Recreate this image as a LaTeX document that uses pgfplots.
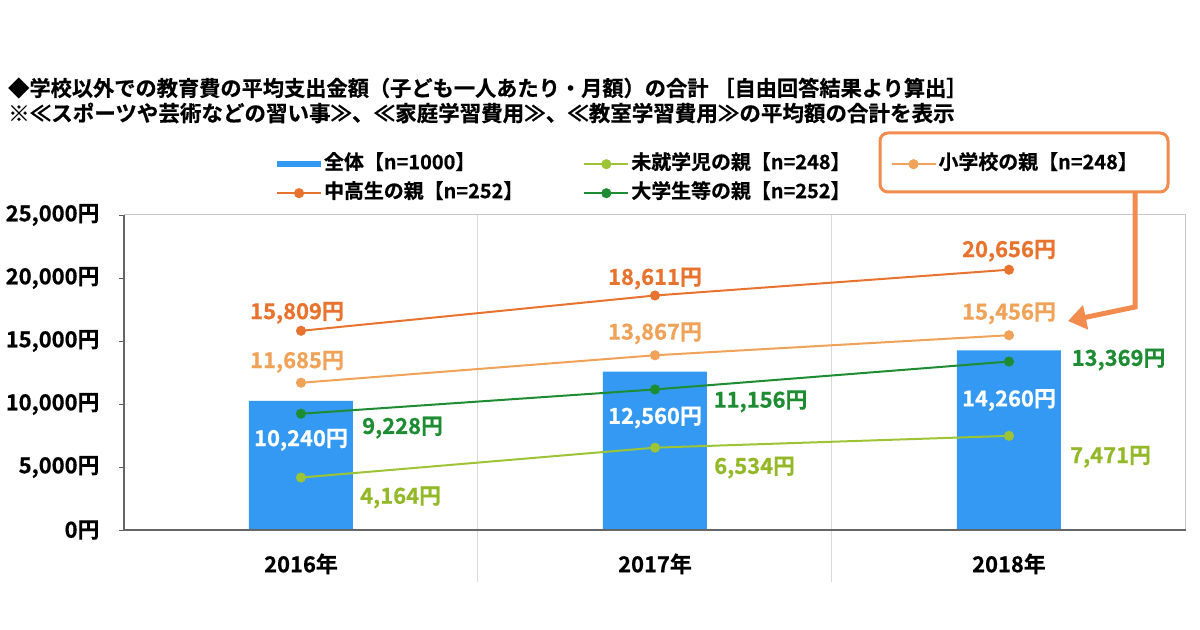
\documentclass[border=0pt]{standalone}
\usepackage{fontspec}
\setmainfont{Noto Sans CJK JP Bold}[FakeBold=0.6]
\usepackage{pgfplots}
\pgfplotsset{compat=1.18}
\usepackage{pgfplotstable}
\usetikzlibrary{arrows.meta}

\definecolor{cAll}{HTML}{3399F2}
\definecolor{cPre}{HTML}{9DC435}
\definecolor{cPreT}{HTML}{93B828}
\definecolor{cEle}{HTML}{F0A258}
\definecolor{cMid}{HTML}{E8732E}
\definecolor{cUni}{HTML}{1E8C32}
\definecolor{cBox}{HTML}{F28C4E}

% x = category (0=2016,1=2017,2=2018), dx/dy = label offset in px
\pgfplotstableread{
x y dx dy
0 10240 0 -39
1 12560 0 -46
2 14260 0 -50
}\tblAll
\pgfplotstableread{
x y dx dy
0 4164 100 -20
1 6534 100 -20
2 7471 102 -21
}\tblPre
\pgfplotstableread{
x y dx dy
0 11685 -4 21
1 13867 0 22
2 15456 0 22
}\tblEle
\pgfplotstableread{
x y dx dy
0 15809 -4 18
1 18611 0 17
2 20656 0 19
}\tblMid
\pgfplotstableread{
x y dx dy
0 9228 102 -14
1 11156 106 -12
2 13369 110 2
}\tblUni

\pgfplotsset{
  lbl/.style={
    visualization depends on={\thisrow{dx}\as\dx},
    visualization depends on={\thisrow{dy}\as\dy},
    point meta=y,
    nodes near coords={\pgfmathprintnumber{\pgfplotspointmeta}円},
    nodes near coords style={anchor=center, xshift=\dx, yshift=\dy,
       font=\fontsize{22}{24}\selectfont, inner sep=0pt, text=#1},
  }
}

\begin{document}
\begin{tikzpicture}
\path[use as bounding box] (0,0) rectangle (1200bp,630bp);
\begin{axis}[
  at={(124bp,100bp)}, anchor=south west,
  scale only axis, width=1062bp, height=315bp,
  xmin=-0.5, xmax=2.5, ymin=0, ymax=25000,
  clip=false,
  axis line style={draw=none},
  xtick={0,1,2}, xticklabels={2016年,2017年,2018年},
  xtick style={draw=none},
  xticklabel style={font=\fontsize{22}{24}\selectfont, yshift=-15bp},
  ytick={0,5000,10000,15000,20000,25000},
  ytick pos=left, tick align=outside, major tick length=5bp,
  ytick style={draw=black!65, line width=0.8bp},
  yticklabel={\pgfmathprintnumber{\tick}円},
  yticklabel style={font=\fontsize{22}{24}\selectfont, xshift=-16bp},
  /pgf/number format/.cd, 1000 sep={,}, assume math mode=true,
  /pgfplots/.cd,
  scaled y ticks=false,
  legend columns=3,
  legend style={at={(0.143,1.2)}, anchor=north west, draw=none, fill=none,
     inner sep=0pt, row sep=5bp,
     font=\fontsize{20}{22}\selectfont,
     nodes={inner sep=2bp, text height=15bp, text depth=5bp},
     /tikz/column 2/.style={column sep=58bp},
     /tikz/column 4/.style={column sep=38bp}},
  legend cell align=left,
  legend image code/.code={\draw[#1,mark repeat=2,mark phase=2] plot coordinates {(0bp,0bp) (22bp,0bp) (44bp,0bp)};},
]
% grid / separators
\draw[black!15, line width=1bp] (axis cs:0.5,25000) -- ([yshift=-52bp]axis cs:0.5,0);
\draw[black!15, line width=1bp] (axis cs:1.5,25000) -- ([yshift=-52bp]axis cs:1.5,0);
\addplot[ybar, bar width=104bp, fill=cAll, draw=none, lbl=white,
  legend image code/.code={\fill[cAll] (0bp,-3bp) rectangle (44bp,3bp);}]
  table[x=x,y=y] {\tblAll};
\addlegendentry{全体【n=1000】}
\addplot[cPre, line width=2bp, mark=*, mark size=4bp, lbl=cPreT]
  table[x=x,y=y] {\tblPre};
\addlegendentry{未就学児の親【n=248】}
\addplot[cEle, line width=2bp, mark=*, mark size=4bp, lbl=cEle]
  table[x=x,y=y] {\tblEle};
\addlegendentry{小学校の親【n=248】}
\addplot[cMid, line width=2bp, mark=*, mark size=4bp, lbl=cMid]
  table[x=x,y=y] {\tblMid};
\addlegendentry{中高生の親【n=252】}
\addplot[cUni, line width=2bp, mark=*, mark size=4bp, lbl=cUni]
  table[x=x,y=y] {\tblUni};
\addlegendentry{大学生等の親【n=252】}
% frame
\draw[black!22, line width=1bp] (rel axis cs:0,1) -- (rel axis cs:1,1) -- (rel axis cs:1,0);
\draw[black!60, line width=1.2bp] (rel axis cs:0,1) -- (rel axis cs:0,0) -- (rel axis cs:1,0);
\end{axis}
% titles
\node[anchor=west, inner sep=0pt, font=\fontsize{21.3}{23}\selectfont] at (8bp,542bp)
  {◆学校以外での教育費の平均支出金額（子ども一人あたり・月額）の合計 ［自由回答結果より算出］};
\node[anchor=west, inner sep=0pt, font=\fontsize{21.6}{23}\selectfont] at (8bp,517bp)
  {※≪スポーツや芸術などの習い事≫、≪家庭学習費用≫、≪教室学習費用≫の平均額の合計を表示};
% highlight box and arrow
\draw[cBox, line width=3bp, rounded corners=8bp] (880bp,497bp) rectangle (1168bp,438bp);
\draw[cBox, line width=5bp, -{Triangle[length=18bp,width=24bp]}]
  (1135bp,438bp) -- (1135bp,323bp) -- (1068bp,309bp);
\end{tikzpicture}
\end{document}
